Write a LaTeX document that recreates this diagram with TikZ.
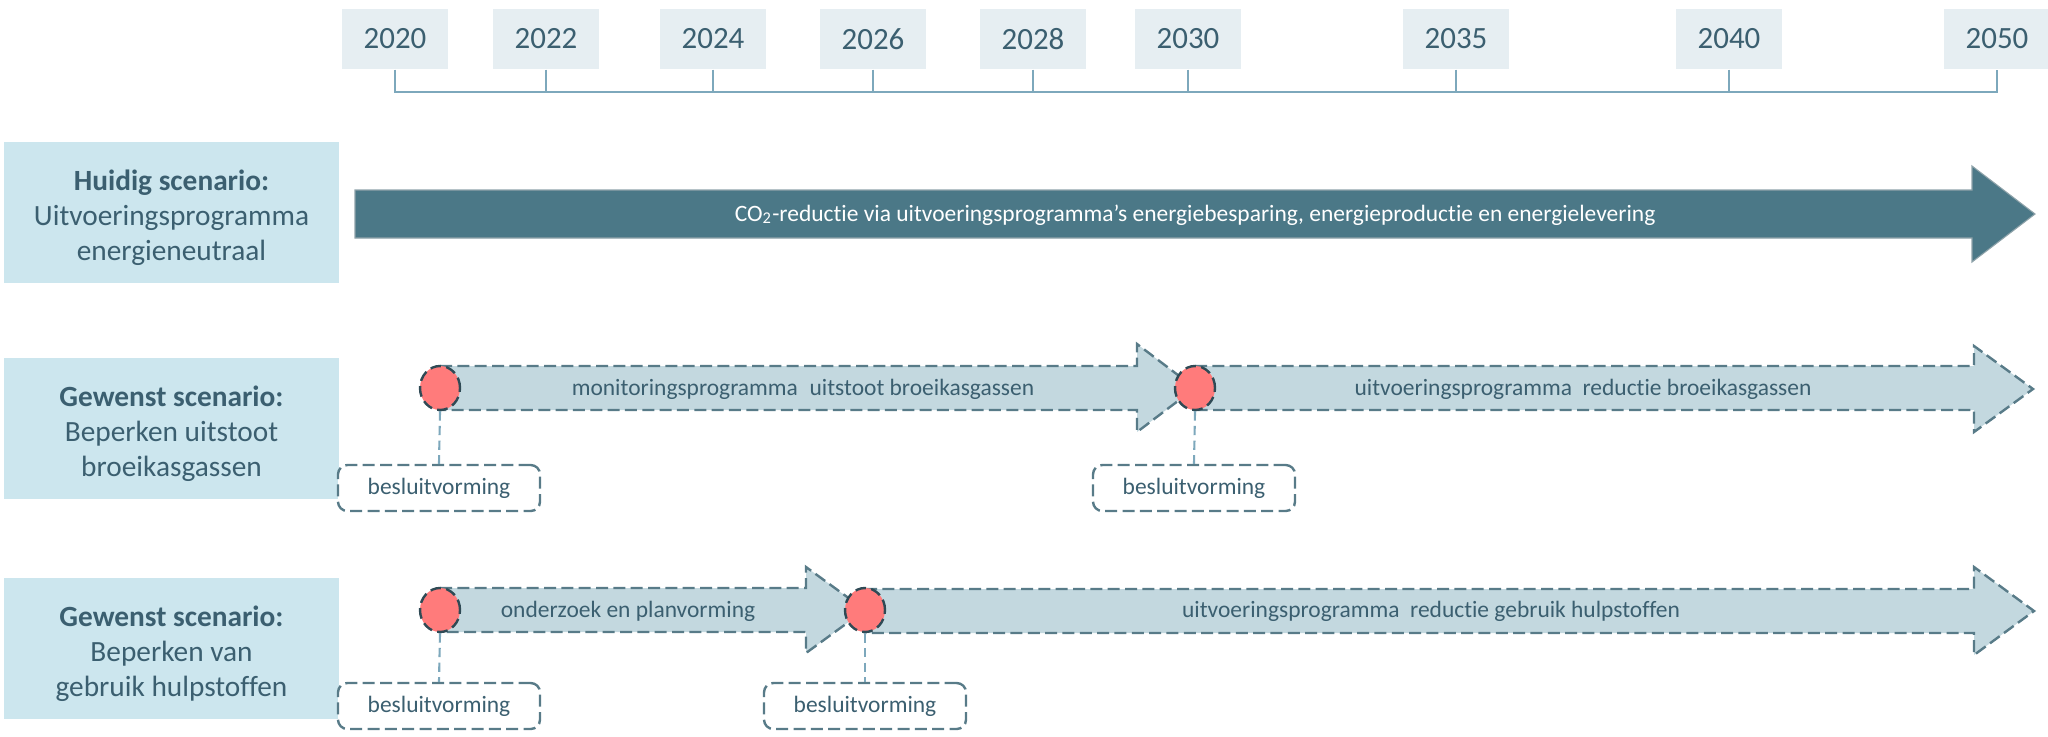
\documentclass[tikz,border=0pt]{standalone}
\usepackage{fontspec}
\setmainfont{Carlito}[Ligatures=NoCommon]
\usetikzlibrary{shapes.geometric}
\definecolor{yearfill}{HTML}{E6EEF2}
\definecolor{txt}{HTML}{3B5F70}
\definecolor{tickc}{HTML}{7DA8BC}
\definecolor{scenfill}{HTML}{CCE6EE}
\definecolor{darkarrow}{HTML}{4B7887}
\definecolor{darkedge}{HTML}{8FA3AA}
\definecolor{lightarrow}{HTML}{C3D8DF}
\definecolor{dashc}{HTML}{587B88}
\definecolor{dotfill}{HTML}{FF7B7B}
\definecolor{dotline}{HTML}{2F4A55}
\begin{document}
\begin{tikzpicture}[x=0.375pt,y=-0.375pt,
  yearbox/.style={fill=yearfill, minimum width=40.1pt, minimum height=22.5pt, inner sep=0pt,
    text=txt, font=\fontsize{11.6}{13}\selectfont},
  tickline/.style={draw=tickc, line width=0.85pt},
  scenbox/.style={fill=scenfill, minimum width=125.6pt, minimum height=52.9pt, inner sep=0pt},
  scentext/.style={align=center, text=txt, inner sep=0pt, font=\fontsize{11}{13.1}\selectfont},
  darkarr/.style={fill=darkarrow, draw=darkedge, line width=0.4pt},
  lightarr/.style={fill=lightarrow, draw=dashc, line width=0.9pt, dash pattern=on 4.5pt off 2pt},
  arrtext/.style={text=txt, font=\fontsize{8.8}{10}\selectfont, inner sep=0pt},
  dot/.style={ellipse, fill=dotfill, draw=dotline, line width=0.9pt, dash pattern=on 4pt off 2pt,
    minimum width=15pt, minimum height=16.5pt, inner sep=0pt},
  besluit/.style={fill=white, draw=dashc, line width=0.9pt, dash pattern=on 4.5pt off 2pt,
    rounded corners=3.5pt, minimum width=75.75pt, minimum height=17.25pt, inner sep=0pt,
    text=txt, font=\fontsize{8.8}{10}\selectfont},
  conn/.style={draw=tickc, line width=0.8pt, dash pattern=on 3.5pt off 2pt}
]
\useasboundingbox (0,0) rectangle (2048,736);

% ---- timeline ----
\node[yearbox] (y2020) at (395,39) {2020};
\node[yearbox] (y2022) at (546,39) {2022};
\node[yearbox] (y2024) at (713,39) {2024};
\node[yearbox] (y2026) at (873,39) {2026};
\node[yearbox] (y2028) at (1033,39) {2028};
\node[yearbox] (y2030) at (1188,39) {2030};
\node[yearbox] (y2035) at (1456,39) {2035};
\node[yearbox] (y2040) at (1729,39) {2040};
\node[yearbox] (y2050) at (1997,39) {2050};
\coordinate (b2020) at (395,92);
\coordinate (b2050) at (1997,92);
\draw[tickline] (y2020.south) -- (b2020) -- (b2050) -- (y2050.south);
\foreach \y in {2022,2024,2026,2028,2030,2035,2040}
  \draw[tickline] (y\y.south) -- (y\y.south |- b2020);

% ---- scenario boxes ----
\node[scenbox] (s1) at (171.5,212.5) {};
\node[scenbox] (s2) at (171.5,428.5) {};
\node[scenbox] (s3) at (171.5,648.5) {};
\node[scentext] (s1t) at ([yshift=-1.9pt]s1.center) {\textbf{Huidig scenario:}\\Uitvoeringsprogramma\\energieneutraal};
\node[scentext] (s2t) at ([yshift=-1.9pt]s2.center) {\textbf{Gewenst scenario:}\\Beperken uitstoot\\broeikasgassen};
\node[scentext] (s3t) at ([yshift=-1.9pt]s3.center) {\textbf{Gewenst scenario:}\\Beperken van\\gebruik hulpstoffen};

% ---- row 1: dark arrow ----
\path[darkarr] (355,190) -- (1972,190) -- (1972,166) -- (2035,214) -- (1972,262) -- (1972,238) -- (355,238) -- cycle;
\node[arrtext, text=white] (t1) at (1195,215) {CO\textsubscript{2}-reductie via uitvoeringsprogramma’s energiebesparing, energieproductie en energielevering};

% ---- row 2 ----
\path[lightarr] (440,366) -- (1137,366) -- (1137,344) -- (1195,388) -- (1137,432) -- (1137,410) -- (440,410) -- cycle;
\path[lightarr] (1195,366) -- (1974,366) -- (1974,346) -- (2033,389) -- (1974,432) -- (1974,410) -- (1195,410) -- cycle;
\node[arrtext] (t2a) at (803,389) {monitoringsprogramma\enspace uitstoot broeikasgassen};
\node[arrtext] (t2b) at (1583,389) {uitvoeringsprogramma\ \ reductie broeikasgassen};
\node[dot] (d2a) at (440,388) {};
\node[dot] (d2b) at (1195,388) {};
\node[besluit] (b2a) at (439,488) {besluitvorming};
\node[besluit] (b2b) at (1194,488) {besluitvorming};
\draw[conn] (d2a.south) -- (b2a.north);
\draw[conn] (d2b.south) -- (b2b.north);

% ---- row 3 ----
\path[lightarr] (440,588) -- (806,588) -- (806,567) -- (865,610) -- (806,653) -- (806,632) -- (440,632) -- cycle;
\path[lightarr] (865,589) -- (1974,589) -- (1974,567) -- (2034,611) -- (1974,655) -- (1974,633) -- (865,633) -- cycle;
\node[arrtext] (t3a) at (628,611) {onderzoek en planvorming};
\node[arrtext] (t3b) at (1431,611) {uitvoeringsprogramma\ \ reductie gebruik hulpstoffen};
\node[dot] (d3a) at (440,610) {};
\node[dot] (d3b) at (865,610) {};
\node[besluit] (b3a) at (439,706) {besluitvorming};
\node[besluit] (b3b) at (865,706) {besluitvorming};
\draw[conn] (d3a.south) -- (b3a.north);
\draw[conn] (d3b.south) -- (b3b.north);
\end{tikzpicture}
\end{document}
